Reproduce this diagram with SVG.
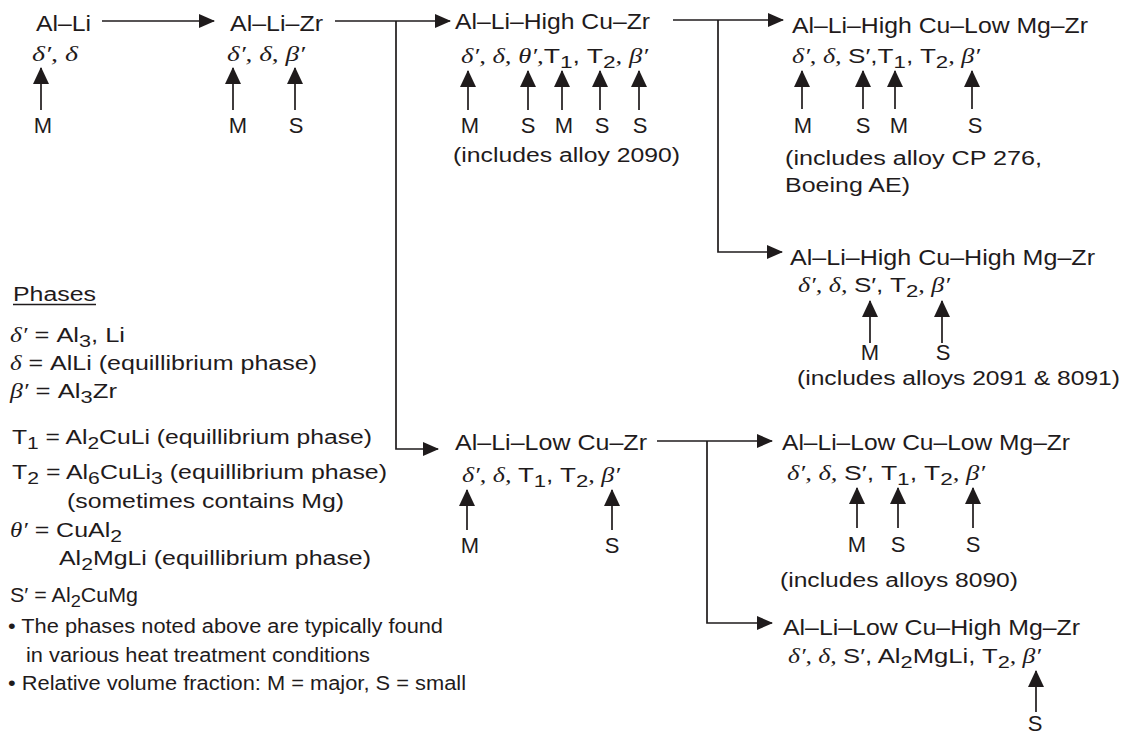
<svg xmlns="http://www.w3.org/2000/svg" width="1132" height="736" viewBox="0 0 1132 736">
<style>
.t{font-family:"Liberation Sans",Arial,sans-serif;fill:#1f1b1c;}
.h{font-size:22px;}
.p{font-size:20px;}
.l{font-size:22px;text-anchor:middle;}
.n{font-size:20px;}
.g{font-family:"Liberation Serif","Times New Roman",serif;font-style:italic;}
.s{font-size:17px;}
.c{stroke:#1f1b1c;stroke-width:1.7;fill:none;}
</style>
<defs>
<marker id="ah" markerWidth="16" markerHeight="14" refX="15" refY="7" orient="auto" markerUnits="userSpaceOnUse"><path d="M0,0 L16,7 L0,14 z" fill="#1f1b1c"/></marker>
<marker id="av" markerWidth="17" markerHeight="16" refX="16" refY="8" orient="auto" markerUnits="userSpaceOnUse"><path d="M0,0 L17,8 L0,16 z" fill="#1f1b1c"/></marker>
</defs>
<rect width="1132" height="736" fill="#ffffff"/>
<g id="connectors">
<path class="c" d="M102,21 H214" marker-end="url(#ah)"/>
<path class="c" d="M335,21 H450" marker-end="url(#ah)"/>
<path class="c" d="M396,21 V449 H438" marker-end="url(#ah)"/>
<path class="c" d="M673,20 H783" marker-end="url(#ah)"/>
<path class="c" d="M718,20 V252 H782" marker-end="url(#ah)"/>
<path class="c" d="M657,441 H772" marker-end="url(#ah)"/>
<path class="c" d="M707,441 V623 H772" marker-end="url(#ah)"/>
<path class="c" d="M41,110 V68" marker-end="url(#av)"/>
<path class="c" d="M233,110 V68" marker-end="url(#av)"/>
<path class="c" d="M295,110 V68" marker-end="url(#av)"/>
<path class="c" d="M468,110 V71" marker-end="url(#av)"/>
<path class="c" d="M528,110 V71" marker-end="url(#av)"/>
<path class="c" d="M562,110 V71" marker-end="url(#av)"/>
<path class="c" d="M600,110 V71" marker-end="url(#av)"/>
<path class="c" d="M639,110 V71" marker-end="url(#av)"/>
<path class="c" d="M802,109 V71" marker-end="url(#av)"/>
<path class="c" d="M863,109 V71" marker-end="url(#av)"/>
<path class="c" d="M895,109 V71" marker-end="url(#av)"/>
<path class="c" d="M972,109 V71" marker-end="url(#av)"/>
<path class="c" d="M870,343 V301" marker-end="url(#av)"/>
<path class="c" d="M942,343 V301" marker-end="url(#av)"/>
<path class="c" d="M467,530 V490" marker-end="url(#av)"/>
<path class="c" d="M612,530 V490" marker-end="url(#av)"/>
<path class="c" d="M857,528 V488" marker-end="url(#av)"/>
<path class="c" d="M898,528 V488" marker-end="url(#av)"/>
<path class="c" d="M973,528 V488" marker-end="url(#av)"/>
<path class="c" d="M1036,712 V671" marker-end="url(#av)"/>
</g>
<g id="n1">
<text class="t h" x="36" y="31" textLength="55" lengthAdjust="spacingAndGlyphs">Al–Li</text>
<text class="t p g" x="32" y="61" textLength="46" lengthAdjust="spacingAndGlyphs">δ′, δ</text>
<text class="t l" x="43" y="133">M</text>
</g>
<g id="n2">
<text class="t h" x="230" y="31" textLength="93" lengthAdjust="spacingAndGlyphs">Al–Li–Zr</text>
<text class="t p g" x="227" y="61" textLength="78" lengthAdjust="spacingAndGlyphs">δ′, δ, β′</text>
<text class="t l" x="238" y="133">M</text>
<text class="t l" x="296" y="133">S</text>
</g>
<g id="n3">
<text class="t h" x="455" y="29" textLength="195" lengthAdjust="spacingAndGlyphs">Al–Li–High Cu–Zr</text>
<text class="t p" x="461" y="63" textLength="187" lengthAdjust="spacingAndGlyphs"><tspan class="g">δ′, δ, θ′,</tspan>T<tspan class="s" dy="5">1</tspan><tspan dy="-5">, T</tspan><tspan class="s" dy="5">2</tspan><tspan class="g" dy="-5">, β′</tspan></text>
<text class="t l" x="470" y="133">M</text>
<text class="t l" x="528" y="133">S</text>
<text class="t l" x="564" y="133">M</text>
<text class="t l" x="602" y="133">S</text>
<text class="t l" x="640" y="133">S</text>
<text class="t n" x="453" y="162" textLength="227" lengthAdjust="spacingAndGlyphs">(includes alloy 2090)</text>
</g>
<g id="n4">
<text class="t h" x="792" y="33" textLength="296" lengthAdjust="spacingAndGlyphs">Al–Li–High Cu–Low Mg–Zr</text>
<text class="t p" x="792" y="63" textLength="188" lengthAdjust="spacingAndGlyphs"><tspan class="g">δ′, δ, </tspan>S′,T<tspan class="s" dy="5">1</tspan><tspan dy="-5">, T</tspan><tspan class="s" dy="5">2</tspan><tspan class="g" dy="-5">, β′</tspan></text>
<text class="t l" x="803" y="133">M</text>
<text class="t l" x="863" y="133">S</text>
<text class="t l" x="899" y="133">M</text>
<text class="t l" x="975" y="133">S</text>
<text class="t n" x="785" y="165" textLength="257" lengthAdjust="spacingAndGlyphs">(includes alloy CP 276,</text>
<text class="t n" x="785" y="192" textLength="125" lengthAdjust="spacingAndGlyphs">Boeing AE)</text>
</g>
<g id="n5">
<text class="t h" x="790" y="265" textLength="305" lengthAdjust="spacingAndGlyphs">Al–Li–High Cu–High Mg–Zr</text>
<text class="t p" x="798" y="292" textLength="152" lengthAdjust="spacingAndGlyphs"><tspan class="g">δ′, δ, </tspan>S′, T<tspan class="s" dy="5">2</tspan><tspan class="g" dy="-5">, β′</tspan></text>
<text class="t l" x="870" y="360">M</text>
<text class="t l" x="943" y="360">S</text>
<text class="t n" x="797" y="385" textLength="323" lengthAdjust="spacingAndGlyphs">(includes alloys 2091 &amp; 8091)</text>
</g>
<g id="n6">
<text class="t h" x="455" y="450" textLength="192" lengthAdjust="spacingAndGlyphs">Al–Li–Low Cu–Zr</text>
<text class="t p" x="462" y="482" textLength="158" lengthAdjust="spacingAndGlyphs"><tspan class="g">δ′, δ, </tspan>T<tspan class="s" dy="5">1</tspan><tspan dy="-5">, T</tspan><tspan class="s" dy="5">2</tspan><tspan class="g" dy="-5">, β′</tspan></text>
<text class="t l" x="470" y="553">M</text>
<text class="t l" x="612" y="553">S</text>
</g>
<g id="n7">
<text class="t h" x="782" y="450" textLength="288" lengthAdjust="spacingAndGlyphs">Al–Li–Low Cu–Low Mg–Zr</text>
<text class="t p" x="787" y="480" textLength="198" lengthAdjust="spacingAndGlyphs"><tspan class="g">δ′, δ, </tspan>S′, T<tspan class="s" dy="5">1</tspan><tspan dy="-5">, T</tspan><tspan class="s" dy="5">2</tspan><tspan class="g" dy="-5">, β′</tspan></text>
<text class="t l" x="857" y="552">M</text>
<text class="t l" x="898" y="552">S</text>
<text class="t l" x="973" y="552">S</text>
<text class="t n" x="780" y="587" textLength="238" lengthAdjust="spacingAndGlyphs">(includes alloys 8090)</text>
</g>
<g id="n8">
<text class="t h" x="783" y="635" textLength="297" lengthAdjust="spacingAndGlyphs">Al–Li–Low Cu–High Mg–Zr</text>
<text class="t p" x="788" y="663" textLength="253" lengthAdjust="spacingAndGlyphs"><tspan class="g">δ′, δ, </tspan>S′, Al<tspan class="s" dy="5">2</tspan><tspan dy="-5">MgLi, T</tspan><tspan class="s" dy="5">2</tspan><tspan class="g" dy="-5">, β′</tspan></text>
<text class="t l" x="1035" y="731">S</text>
</g>
<g id="legend">
<text class="t n" x="13" y="301" textLength="83" lengthAdjust="spacingAndGlyphs">Phases</text>
<line x1="13" y1="304.5" x2="96" y2="304.5" stroke="#1f1b1c" stroke-width="1.3"/>
<text class="t n" x="10" y="342" textLength="115" lengthAdjust="spacingAndGlyphs"><tspan class="g">δ′</tspan> = Al<tspan class="s" dy="5">3</tspan><tspan dy="-5">, Li</tspan></text>
<text class="t n" x="10" y="370" textLength="307" lengthAdjust="spacingAndGlyphs"><tspan class="g">δ</tspan> = AlLi (equillibrium phase)</text>
<text class="t n" x="10" y="398" textLength="107" lengthAdjust="spacingAndGlyphs"><tspan class="g">β′</tspan> = Al<tspan class="s" dy="5">3</tspan><tspan dy="-5">Zr</tspan></text>
<text class="t n" x="12" y="444" textLength="360" lengthAdjust="spacingAndGlyphs">T<tspan class="s" dy="5">1</tspan><tspan dy="-5"> = Al</tspan><tspan class="s" dy="5">2</tspan><tspan dy="-5">CuLi (equillibrium phase)</tspan></text>
<text class="t n" x="12" y="479" textLength="375" lengthAdjust="spacingAndGlyphs">T<tspan class="s" dy="5">2</tspan><tspan dy="-5"> = Al</tspan><tspan class="s" dy="5">6</tspan><tspan dy="-5">CuLi</tspan><tspan class="s" dy="5">3</tspan><tspan dy="-5"> (equillibrium phase)</tspan></text>
<text class="t n" x="67" y="508" textLength="277" lengthAdjust="spacingAndGlyphs">(sometimes contains Mg)</text>
<text class="t n" x="10" y="537" textLength="112" lengthAdjust="spacingAndGlyphs"><tspan class="g">θ′</tspan> = CuAl<tspan class="s" dy="5">2</tspan></text>
<text class="t n" x="59" y="565" textLength="312" lengthAdjust="spacingAndGlyphs">Al<tspan class="s" dy="5">2</tspan><tspan dy="-5">MgLi (equillibrium phase)</tspan></text>
<text class="t n" x="10" y="602" textLength="128" lengthAdjust="spacingAndGlyphs">S′ = Al<tspan class="s" dy="5">2</tspan><tspan dy="-5">CuMg</tspan></text>
<text class="t n" x="8" y="633" textLength="435" lengthAdjust="spacingAndGlyphs">• The phases noted above are typically found</text>
<text class="t n" x="26" y="662" textLength="344" lengthAdjust="spacingAndGlyphs">in various heat treatment conditions</text>
<text class="t n" x="8" y="690" textLength="458" lengthAdjust="spacingAndGlyphs">• Relative volume fraction: M = major, S = small</text>
</g>
</svg>
